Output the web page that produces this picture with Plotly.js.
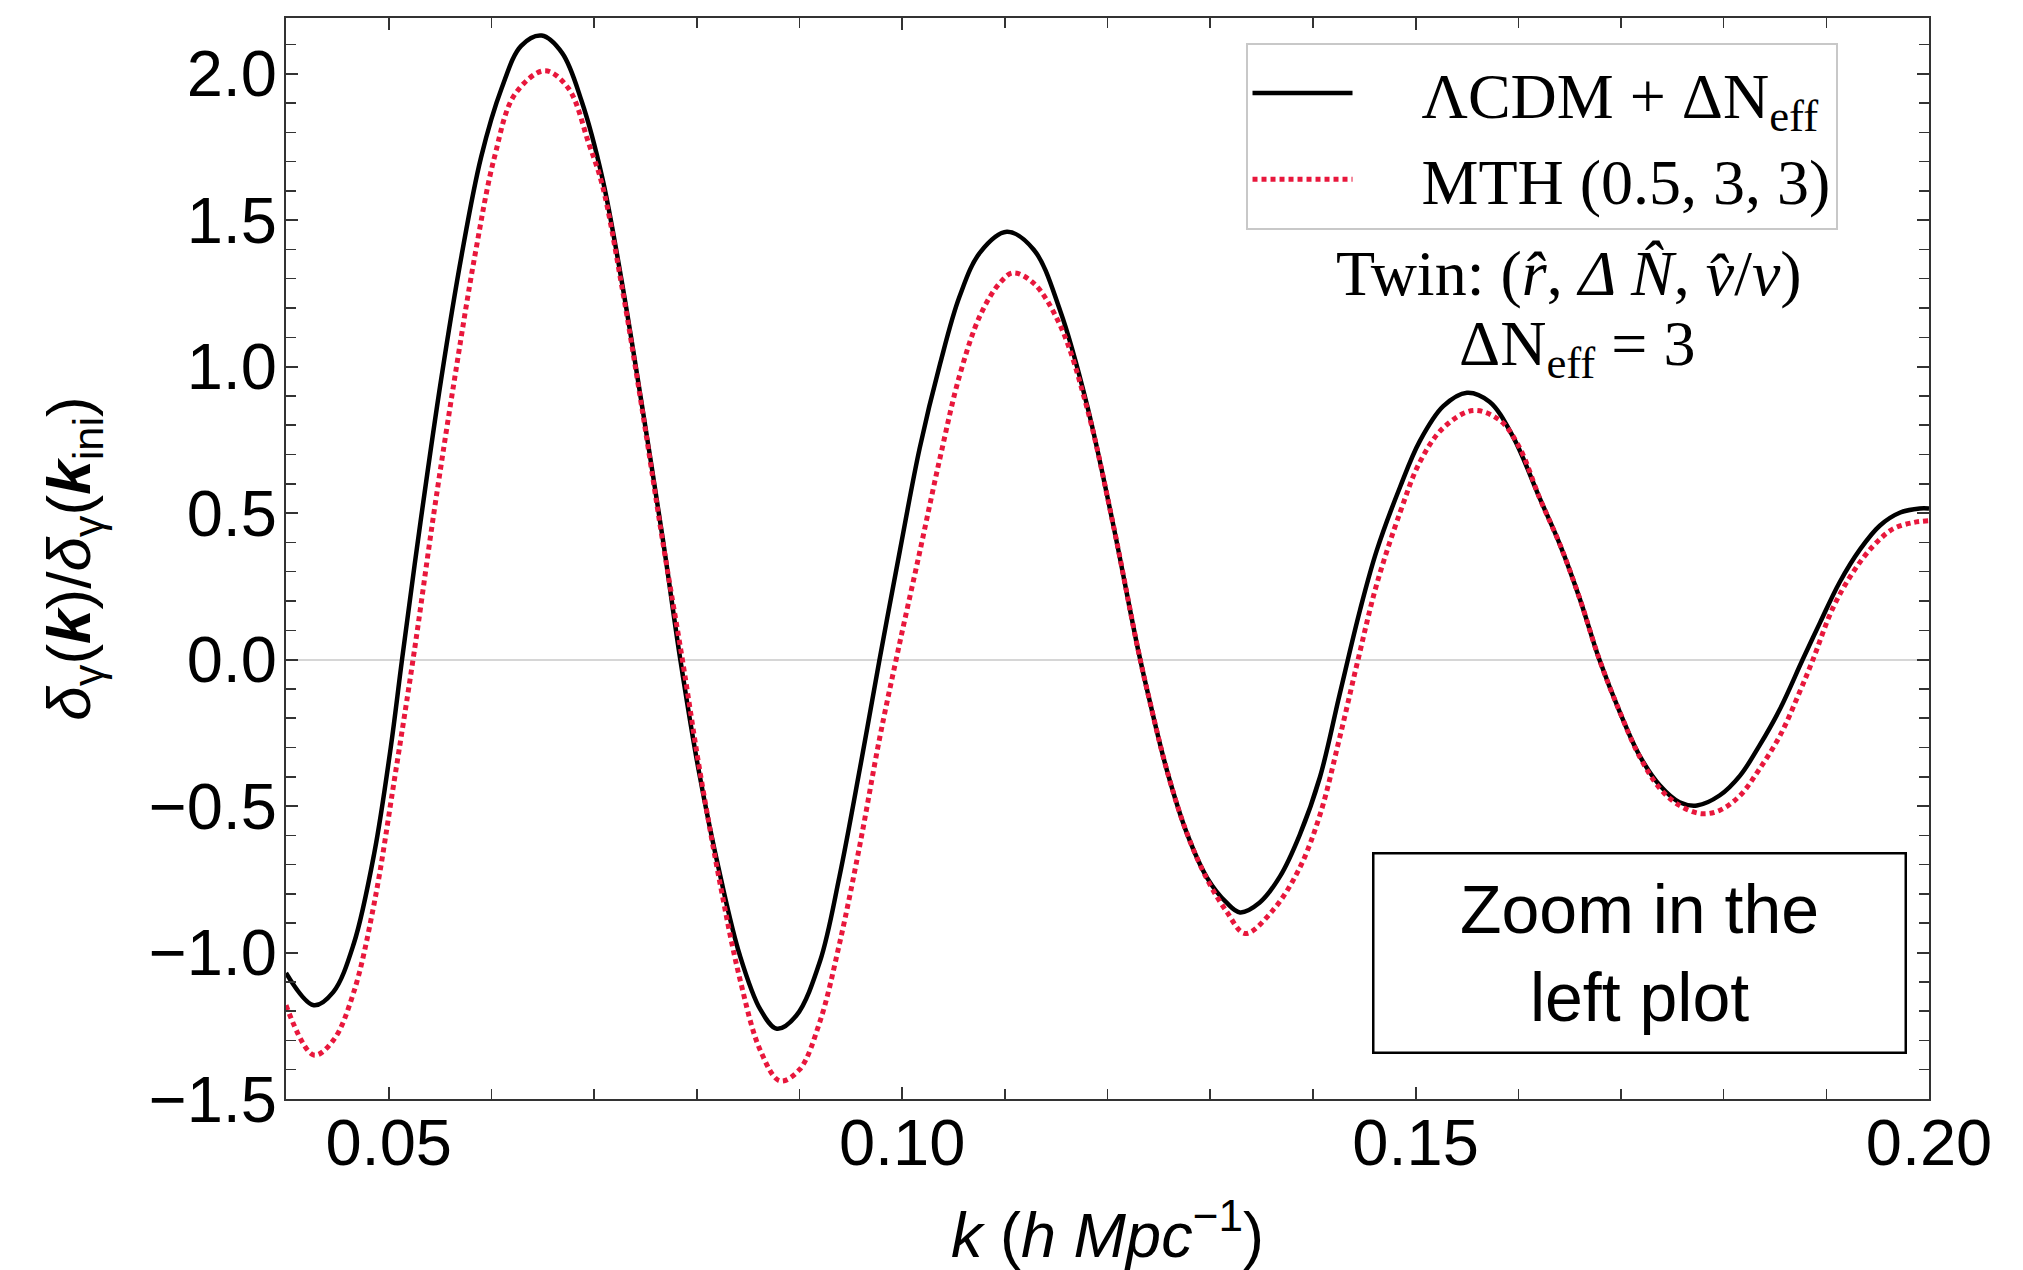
<!DOCTYPE html>
<html>
<head>
<meta charset="utf-8">
<script src="https://cdn.plot.ly/plotly-3.0.1.min.js"></script>
<style>
  html, body { margin: 0; padding: 0; background: #fff; }
  #chart { width: 2023px; height: 1270px; }
</style>
</head>
<body>
<div id="chart"></div>
<script>
// k values (h Mpc^-1) and delta_gamma(k)/delta_gamma(k_ini)
const k_lcdm = [0.0400, 0.0427, 0.0446, 0.0466, 0.0486, 0.0502, 0.0513, 0.0531, 0.0551, 0.0571,
  0.0590, 0.0610, 0.0629, 0.0649, 0.0669, 0.0688, 0.0708, 0.0727, 0.0747, 0.0767,
  0.0784, 0.0802, 0.0823, 0.0842, 0.0862, 0.0878, 0.0897, 0.0920, 0.0939, 0.0959,
  0.0978, 0.0998, 0.1017, 0.1037, 0.1056, 0.1076, 0.1102, 0.1128, 0.1154, 0.1180,
  0.1205, 0.1230, 0.1241, 0.1258, 0.1277, 0.1297, 0.1316, 0.1329, 0.1348, 0.1368,
  0.1387, 0.1407, 0.1426, 0.1446, 0.1462, 0.1485, 0.1504, 0.1527, 0.1550, 0.1572,
  0.1595, 0.1621, 0.1641, 0.1660, 0.1679, 0.1699, 0.1718, 0.1738, 0.1757, 0.1774,
  0.1796, 0.1816, 0.1835, 0.1855, 0.1877, 0.1894, 0.1913, 0.1933, 0.1952, 0.1972,
  0.1991, 0.2000];
const delta_lcdm = [-1.07, -1.18, -1.135, -0.97, -0.66, -0.30, 0.0, 0.47, 0.955, 1.38,
  1.715, 1.95, 2.095, 2.13, 2.07, 1.905, 1.645, 1.29, 0.86, 0.41,
  0.0, -0.38, -0.74, -1.01, -1.195, -1.26, -1.215, -1.03, -0.74, -0.37,
  0.0, 0.375, 0.72, 1.01, 1.24, 1.39, 1.46, 1.40, 1.19, 0.87,
  0.47, 0.03, -0.14, -0.38, -0.59, -0.745, -0.83, -0.863, -0.83, -0.74,
  -0.60, -0.40, -0.12, 0.17, 0.37, 0.59, 0.745, 0.865, 0.911, 0.88,
  0.76, 0.55, 0.389, 0.207, 0.0, -0.18, -0.327, -0.43, -0.487, -0.498,
  -0.464, -0.396, -0.293, -0.168, 0.0, 0.127, 0.264, 0.377, 0.457, 0.502,
  0.516, 0.516];

const k_mth = [0.0400, 0.0427, 0.0446, 0.0466, 0.0486, 0.0506, 0.0525, 0.0544, 0.0564, 0.0584,
  0.0603, 0.0623, 0.0652, 0.0675, 0.0695, 0.0708, 0.0727, 0.0747, 0.0767, 0.0786,
  0.0803, 0.0823, 0.0842, 0.0862, 0.0881, 0.0900, 0.0920, 0.0939, 0.0959, 0.0978,
  0.0996, 0.1017, 0.1037, 0.1056, 0.1076, 0.1095, 0.1108, 0.1128, 0.1154, 0.1180,
  0.1205, 0.1230, 0.1241, 0.1258, 0.1277, 0.1297, 0.1316, 0.1334, 0.1361, 0.1387,
  0.1407, 0.1426, 0.1444, 0.1462, 0.1485, 0.1504, 0.1527, 0.1556, 0.1582, 0.1601,
  0.1621, 0.1641, 0.1660, 0.1679, 0.1699, 0.1718, 0.1738, 0.1757, 0.1778, 0.1796,
  0.1816, 0.1835, 0.1855, 0.1874, 0.1887, 0.1906, 0.1926, 0.1946, 0.1965, 0.1985,
  0.2000];
const delta_mth = [-1.18, -1.35, -1.30, -1.135, -0.83, -0.40, 0.03, 0.50, 0.955, 1.38,
  1.715, 1.93, 2.01, 1.95, 1.76, 1.62, 1.275, 0.85, 0.40, 0.0,
  -0.38, -0.77, -1.09, -1.335, -1.438, -1.40, -1.235, -0.97, -0.63, -0.27,
  0.03, 0.365, 0.69, 0.97, 1.175, 1.285, 1.32, 1.285, 1.14, 0.86,
  0.47, 0.03, -0.14, -0.38, -0.59, -0.75, -0.86, -0.935, -0.856, -0.712,
  -0.529, -0.268, 0.0, 0.255, 0.503, 0.673, 0.791, 0.85, 0.817, 0.725,
  0.55, 0.389, 0.207, 0.0, -0.18, -0.33, -0.44, -0.498, -0.526, -0.515,
  -0.464, -0.373, -0.259, -0.111, 0.0, 0.173, 0.298, 0.389, 0.446, 0.468,
  0.474];

const seriesNames = ['\u2002\u2002\u039BCDM + \u0394N<sub>eff</sub>', '\u2002\u2002MTH (0.5, 3, 3)'];
const annoTwin = 'Twin: (<i>r\u0302</i>, <i>\u0394 N\u0302</i>, <i>v\u0302</i>/<i>v</i>)';
const annoNeff = '\u0394N<sub>eff</sub> = 3';
const annoZoom = 'Zoom in the<br>left plot';

const sans = 'Liberation Sans, Arial, Helvetica, sans-serif';
const serif = 'Liberation Serif, Times New Roman, serif';

const traces = [
  {
    x: k_lcdm, y: delta_lcdm, type: 'scatter', mode: 'lines', name: seriesNames[0],
    line: {color: '#000000', width: 4.5, shape: 'spline', smoothing: 1}
  },
  {
    x: k_mth, y: delta_mth, type: 'scatter', mode: 'lines', name: seriesNames[1],
    line: {color: '#e8173c', width: 5, dash: '5px,4px', shape: 'spline', smoothing: 1}
  }
];

const axisCommon = {
  showline: true, linecolor: '#333', linewidth: 2, mirror: 'ticks',
  ticks: 'inside', ticklen: 12, tickwidth: 2, tickcolor: '#333',
  showgrid: false,
  tickfont: {family: sans, size: 65, color: '#000'}
};

const layout = {
  width: 2023, height: 1270,
  margin: {l: 286, r: 94, t: 18, b: 171},
  paper_bgcolor: '#fff', plot_bgcolor: '#fff',
  showlegend: true,
  xaxis: Object.assign({}, axisCommon, {
    range: [0.04, 0.20], tick0: 0.05, dtick: 0.05, tickformat: '.2f',
    zeroline: false, ticklabelstandoff: -14,
    minor: {dtick: 0.01, ticks: 'inside', ticklen: 10, tickwidth: 1.5, tickcolor: '#333', showgrid: false},
    title: {text: '<i>k</i> (<i>h Mpc</i><sup>\u22121</sup>)', font: {family: sans, size: 63, color: '#000'}, standoff: 40}
  }),
  yaxis: Object.assign({}, axisCommon, {
    range: [-1.5, 2.19], tick0: 0, dtick: 0.5, tickformat: '.1f',
    zeroline: true, zerolinecolor: '#d6d6d6', zerolinewidth: 2, ticklabelstandoff: -6,
    minor: {dtick: 0.1, ticks: 'inside', ticklen: 10, tickwidth: 1.5, tickcolor: '#333', showgrid: false},
    title: {text: '<i>\u03B4</i><sub>\u03B3</sub>(<b><i>k</i></b>)/<i>\u03B4</i><sub>\u03B3</sub>(<b><i>k</i></b><sub>ini</sub>)',
            font: {family: sans, size: 62, color: '#000'}, standoff: 38}
  }),
  legend: {
    x: 0.584, y: 0.977, xanchor: 'left', yanchor: 'top',
    bgcolor: '#fff', bordercolor: '#c8c8c8', borderwidth: 2,
    font: {family: serif, size: 64, color: '#000'},
    itemwidth: 100, tracegroupgap: 0
  },
  annotations: [
    {xref: 'paper', yref: 'paper', x: 0.781, y: 0.764, xanchor: 'center', yanchor: 'middle',
     text: annoTwin, showarrow: false, font: {family: serif, size: 64, color: '#000'}},
    {xref: 'paper', yref: 'paper', x: 0.786, y: 0.695, xanchor: 'center', yanchor: 'middle',
     text: annoNeff, showarrow: false, font: {family: serif, size: 64, color: '#000'}},
    {xref: 'paper', yref: 'paper', x: 0.824, y: 0.135, xanchor: 'center', yanchor: 'middle',
     text: annoZoom, showarrow: false, align: 'center',
     font: {family: sans, size: 68, color: '#000'},
     bordercolor: '#000', borderwidth: 2.5, borderpad: 0, bgcolor: '#fff',
     width: 530, height: 197}
  ]
};

Plotly.newPlot('chart', traces, layout, {displayModeBar: false, staticPlot: true});
</script>
</body>
</html>
